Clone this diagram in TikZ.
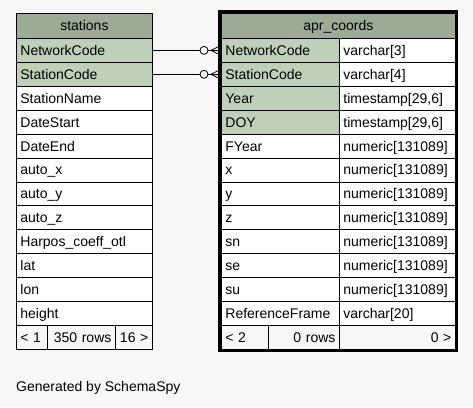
\documentclass[tikz,border=0pt]{standalone}
\usepackage{fontspec}
\setmainfont{Liberation Sans}
\definecolor{hdr}{HTML}{9BAB96}
\definecolor{key}{HTML}{BED1B8}
\definecolor{bg}{HTML}{F7F7F7}
\begin{document}
\begin{tikzpicture}[x=1pt,y=-1pt,font=\fontsize{14}{16}\selectfont,
  cell/.style={draw=black,line width=0.8pt,anchor=north west,inner ysep=0pt,inner xsep=4pt,
    minimum height=23.92pt,text height=10pt,text depth=0pt},
  hcell/.style={cell,fill=hdr,minimum height=25pt,align=center},
  conn/.style={line width=0.8pt,draw=black}]
\fill[bg] (0,0) rectangle (473,407);
\useasboundingbox (0,0) rectangle (473,407);
% stations table
\node[hcell,minimum width=136pt,text width=128pt] (sh) at (16,13) {stations};
\foreach \t/\c [count=\i from 0] in {NetworkCode/key,StationCode/key,StationName/white,DateStart/white,DateEnd/white,auto\_x/white,auto\_y/white,auto\_z/white,Harpos\_coeff\_otl/white,lat/white,lon/white,height/white}{
  \pgfmathsetmacro\yy{38+\i*23.92}
  \node[cell,fill=\c,minimum width=136pt,text width=128pt,align=left] (s\i) at (16,\yy) {\t};
}
\pgfmathsetmacro\yf{38+12*23.92}
\node[cell,fill=bg,minimum width=31pt,text width=23pt,align=left] (sf1) at (16,\yf) {< 1};
\node[cell,fill=bg,minimum width=68pt,text width=60pt,align=right] (sf2) at (47,\yf) {350 rows};
\node[cell,fill=bg,minimum width=37pt,text width=29pt,align=right] (sf3) at (115,\yf) {16 >};
% apr_coords table
\node[hcell,minimum width=234pt,text width=226pt] (ah) at (221,13) {apr\_coords};
\foreach \t/\ty/\c [count=\i from 0] in {NetworkCode/{varchar[3]}/key,StationCode/{varchar[4]}/key,Year/{timestamp[29,6]}/key,DOY/{timestamp[29,6]}/key,FYear/{numeric[131089]}/white,x/{numeric[131089]}/white,y/{numeric[131089]}/white,z/{numeric[131089]}/white,sn/{numeric[131089]}/white,se/{numeric[131089]}/white,su/{numeric[131089]}/white,ReferenceFrame/{varchar[20]}/white}{
  \pgfmathsetmacro\yy{38+\i*23.92}
  \node[cell,fill=\c,minimum width=118pt,text width=110pt,align=left] (a\i) at (221,\yy) {\t};
  \node[cell,fill=white,minimum width=116pt,text width=108pt,align=left] (b\i) at (339,\yy) {\ty};
}
\node[cell,fill=bg,minimum width=47pt,text width=39pt,align=left] (af1) at (221,\yf) {< 2};
\node[cell,fill=bg,minimum width=71pt,text width=63pt,align=right] (af2) at (268,\yf) {0 rows};
\node[cell,fill=bg,minimum width=116pt,text width=108pt,align=right] (af3) at (339,\yf) {0 >};
\draw[line width=3pt] (219.5,11.5) rectangle (456.5,350.5);
% connectors
\foreach \k in {0,1}{
  \draw[conn] (s\k.east) -- ([xshift=-21pt]a\k.west);
  \draw[conn] ([xshift=-17pt]a\k.west) circle[radius=4pt];
  \draw[conn] ([xshift=-13pt]a\k.west) -- ([xshift=-2pt]a\k.west);
  \draw[conn] ([xshift=-10pt]a\k.west) -- ([xshift=-2pt,yshift=4pt]a\k.west);
  \draw[conn] ([xshift=-10pt]a\k.west) -- ([xshift=-2pt,yshift=-4pt]a\k.west);
}
\node[anchor=base west,inner sep=0pt] (gen) at (16,391) {Generated by SchemaSpy};
\end{tikzpicture}
\end{document}
